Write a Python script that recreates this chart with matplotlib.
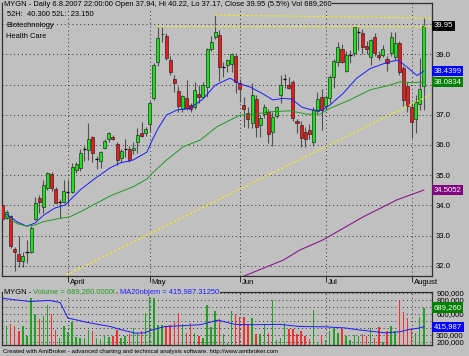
import matplotlib
matplotlib.use('Agg')
import matplotlib.pyplot as plt
import matplotlib.transforms as mtransforms

W, H = 469, 356
BG = '#C0C0C0'
FONT = 'Liberation Sans'

# ---------------- data (bar index 0..103, daily) ----------------
opens = [34.00, 33.58, 33.66, 32.55, 32.38, 32.17, 32.46, 32.46, 33.54, 34.24,
         33.93, 34.56, 35.03, 34.54, 34.12, 34.10, 34.45, 34.43, 35.17, 35.22,
         35.85, 35.83, 36.27, 35.52, 35.48, 35.89, 36.19, 36.27, 36.03, 35.56,
         35.85, 35.85, 35.83, 36.11, 36.38, 36.38, 36.70, 37.56, 38.75, 39.66,
         39.60, 38.81, 38.17, 37.78, 37.18, 37.54, 37.32, 37.25, 37.69, 37.60,
         37.93, 39.17, 39.56, 39.64, 38.59, 38.64, 38.68, 38.94, 38.06, 37.32,
         37.05, 36.72, 37.51, 36.66, 37.02, 37.10, 36.44, 36.96, 37.65, 38.17,
         38.00, 38.09, 36.79, 36.66, 36.44, 36.49, 36.11, 37.14, 37.60, 37.29,
         37.54, 38.26, 38.75, 39.17, 38.46, 38.98, 39.05, 39.73, 39.70, 39.27,
         38.90, 39.58, 38.98, 38.98, 38.83, 39.05, 38.90, 39.36, 38.55, 37.95,
         37.25, 36.85, 37.35, 37.94]
highs = [34.10, 33.85, 33.69, 32.63, 32.97, 32.45, 32.85, 33.30, 34.26, 34.34,
         34.84, 35.10, 35.10, 34.60, 34.20, 34.83, 34.83, 35.39, 35.45, 35.85,
         35.96, 36.74, 36.30, 35.63, 35.80, 36.20, 36.42, 36.33, 36.10, 35.85,
         36.20, 35.95, 36.10, 36.55, 36.75, 36.60, 37.45, 38.70, 39.91, 39.90,
         39.70, 38.95, 38.30, 37.95, 37.65, 38.15, 37.40, 38.10, 38.00, 38.10,
         39.20, 39.60, 40.30, 39.80, 38.75, 38.85, 39.05, 39.03, 38.17, 37.59,
         37.27, 38.06, 37.65, 36.99, 37.35, 37.20, 37.10, 37.30, 38.30, 38.34,
         38.25, 38.15, 36.86, 36.80, 36.60, 36.70, 37.25, 37.76, 37.85, 37.65,
         38.30, 38.85, 39.42, 39.35, 39.10, 39.15, 39.91, 39.91, 39.85, 39.45,
         39.52, 39.70, 39.10, 39.30, 38.95, 39.75, 39.75, 39.45, 38.60, 38.10,
         37.40, 37.65, 38.87, 40.22]
lows = [33.18, 33.54, 32.59, 31.83, 31.97, 31.97, 32.09, 32.43, 33.50, 33.75,
        33.74, 34.50, 34.48, 34.07, 33.57, 34.07, 34.00, 34.40, 35.08, 35.15,
        35.48, 35.50, 35.45, 35.20, 35.25, 35.85, 36.10, 36.15, 35.33, 35.45,
        35.61, 35.45, 35.70, 35.73, 36.25, 36.30, 36.44, 37.50, 38.60, 39.42,
        38.80, 38.30, 37.75, 37.10, 37.10, 37.15, 37.10, 37.20, 37.40, 37.55,
        37.60, 39.10, 39.50, 38.13, 38.26, 38.40, 38.40, 37.71, 37.43, 36.59,
        36.55, 36.55, 36.27, 36.25, 36.90, 36.05, 35.96, 36.90, 37.40, 37.88,
        37.85, 36.80, 36.40, 35.94, 35.94, 36.20, 35.95, 37.05, 36.49, 37.15,
        37.40, 37.87, 38.60, 38.70, 38.40, 38.70, 38.95, 39.15, 39.00, 39.00,
        38.65, 38.95, 38.80, 38.90, 38.45, 38.95, 38.80, 38.30, 37.30, 37.10,
        36.22, 36.40, 37.15, 37.17]
closes = [33.54, 33.78, 32.65, 32.44, 32.17, 32.32, 32.46, 33.26, 34.09, 34.11,
          34.68, 35.06, 34.56, 34.07, 34.12, 34.48, 34.45, 35.26, 35.37, 35.74,
          35.85, 36.19, 35.72, 35.52, 35.77, 36.14, 36.38, 36.19, 35.50, 35.80,
          35.85, 35.50, 35.91, 36.33, 36.29, 36.53, 37.38, 38.64, 39.53, 39.68,
          38.87, 38.42, 38.04, 37.29, 37.62, 37.21, 37.18, 37.82, 37.58, 37.98,
          39.18, 39.42, 39.75, 38.59, 38.59, 38.81, 39.02, 38.10, 37.84, 37.18,
          36.85, 37.65, 36.58, 36.88, 37.26, 36.36, 36.91, 37.26, 37.98, 38.17,
          37.90, 36.88, 36.72, 36.22, 36.19, 36.36, 37.16, 37.52, 37.16, 37.60,
          38.26, 38.78, 39.25, 38.73, 38.98, 38.98, 39.91, 39.73, 39.25, 39.17,
          39.47, 39.05, 38.90, 39.17, 38.72, 39.58, 39.36, 38.42, 37.49, 37.30,
          36.77, 37.43, 37.84, 39.95]
volumes = [300, 430, 450, 430, 350, 420, 280, 820, 600, 530,
           570, 720, 600, 370, 260, 420, 340, 480, 270, 260,
           260, 370, 360, 250, 240, 280, 270, 290, 370, 260,
           290, 310, 400, 330, 350, 610, 840, 820, 440, 440,
           430, 440, 480, 610, 460, 330, 470, 330, 280, 250,
           720, 410, 640, 530, 310, 180, 640, 600, 560, 560,
           440, 540, 320, 320, 450, 330, 790, 230, 260, 470,
           380, 390, 320, 350, 280, 240, 650, 200, 300, 230,
           350, 400, 330, 390, 280, 230, 300, 280, 310, 290,
           400, 250, 410, 200, 360, 420, 360, 790, 620, 540,
           400, 330, 560, 689.26]  # thousands

month_labels = ['April', 'May', 'Jun', 'Jul', 'August']
month_idx = [16, 36, 58, 79, 100]

ma_blue_x = [1, 3.5, 5.9, 7.9, 10.1, 12.8, 15.3, 19, 22.1, 26.3, 28.7, 31.9, 35.3, 36.6,
             38.1, 40.1, 42.7, 45.8, 49, 52, 55.6, 58.1, 60.5, 63.7, 66.1, 68.6, 70.7,
             73.2, 75.6, 78, 80, 83.3, 86.6, 89.9, 94, 96.7, 98.8, 101.3, 103]
ma_blue_y = [33.71, 33.46, 33.31, 33.41, 33.68, 33.91, 34.01, 34.51, 34.84, 35.24, 35.40,
             35.50, 35.76, 36.16, 36.56, 36.99, 37.16, 37.21, 37.52, 37.98, 38.21, 38.02,
             37.92, 37.69, 37.49, 37.54, 37.52, 37.25, 37.16, 37.14, 37.32, 37.71, 38.21,
             38.53, 38.73, 38.81, 38.59, 38.30, 38.4399]
ma_green_x = [1, 3.5, 5.9, 7.9, 10, 14.1, 16.5, 19.8, 23, 26.3, 32, 35.3, 36.9, 40.1,
              44.2, 48.3, 52.4, 58.1, 60.5, 65.4, 70.3, 74.4, 77.6, 80, 84.9, 89.8,
              94.7, 97.2, 100, 103]
ma_green_y = [33.62, 33.40, 33.31, 33.35, 33.46, 33.57, 33.62, 33.84, 34.07, 34.31, 34.62,
              34.87, 35.10, 35.50, 35.94, 36.16, 36.60, 36.99, 36.99, 37.10, 37.13, 37.02,
              37.02, 37.21, 37.49, 37.82, 37.98, 38.09, 38.06, 38.0834]
ma_purple_x = [58, 68.7, 72.7, 78.4, 88.2, 96.4, 103]
ma_purple_y = [31.60, 32.19, 32.52, 32.86, 33.62, 34.18, 34.5052]
vol_ma_x = [0, 6.7, 11.6, 14.1, 16, 21.4, 26.3, 28.7, 32.4, 34.8, 36.5, 39.7, 43.4, 48.3,
            52.7, 56.8, 61.7, 67.8, 72.7, 78.8, 83.6, 87.4, 93.5, 97.2, 99.6, 101.6, 103]
vol_ma_y = [820, 775, 790, 760, 540, 470, 420, 380, 325, 330, 370, 420, 430, 445,
            510, 450, 445, 450, 420, 415, 400, 370, 330, 345, 380, 395, 415.987]

trend_up_x = [15.6, 104.6]
trend_up_y = [31.69, 37.66]
resist1_x = [37.8, 105.0]
resist1_y = [39.93, 39.93]
resist2_x = [52, 105.0]
resist2_y = [40.30, 40.20]

price_ticks = [32, 33, 34, 35, 36, 37, 38, 39, 40]
price_hidden = [38, 40]          # labels covered by value boxes in the reference
vol_ticks = [200, 300, 400, 500, 600, 700, 800, 900]
vol_hidden = [400, 500, 700]

# ---------------- figure ----------------
plt.rcParams['font.family'] = [FONT, 'DejaVu Sans']
fig = plt.figure(figsize=(W / 100, H / 100), dpi=100, facecolor=BG)


def px_axes(l, t, r, b):
    return fig.add_axes([l / W, 1 - b / H, (r - l) / W, (b - t) / H])


ax = px_axes(2, 3, 432, 276)
axv = px_axes(2, 292, 432, 345)

XL = (-0.12, 105.0)
GRID_KW = dict(color='#303030', lw=0.7, linestyle=(0, (1, 3)))
TS = 5.6

for a in (ax, axv):
    a.set_facecolor(BG)
    a.set_xlim(*XL)
    for s in a.spines.values():
        s.set_color('#303030')
        s.set_linewidth(0.9)
    a.yaxis.tick_right()
    a.tick_params(axis='y', length=0, pad=3, labelsize=TS, colors='black')
    for m in month_idx:
        a.axvline(m, zorder=0.5, **GRID_KW)

# price panel
ax.set_ylim(31.66, 40.70)
ax.set_yticks(price_ticks)
ax.set_yticklabels(['' if v in price_hidden else f'{v:.1f}' for v in price_ticks])
for v in price_ticks:
    ax.axhline(v, zorder=0.5, **GRID_KW)
ax.set_xticks(month_idx)
ax.set_xticklabels([])
ax.tick_params(axis='x', length=4.5, width=0.7, direction='out', color='#303030')

idx = list(range(len(opens)))
ax.vlines(idx, lows, highs, color='#505050', lw=0.8, zorder=2)
for i, (o, c) in enumerate(zip(opens, closes)):
    if abs(c - o) < 0.005:
        ax.hlines(o, i - 0.38, i + 0.38, color='black', lw=0.9, zorder=3)
    else:
        col = '#19E619' if c > o else '#F01818'
        ax.bar(i, abs(c - o), bottom=min(o, c), width=0.74, color=col,
               edgecolor='#202020', linewidth=0.45, zorder=3)

ax.plot(ma_blue_x, ma_blue_y, color='#1a1aff', lw=0.7, zorder=4)
ax.plot(ma_green_x, ma_green_y, color='#1f9a1f', lw=0.7, zorder=4)
ax.plot(ma_purple_x, ma_purple_y, color='#8a1a8a', lw=0.8, zorder=4)
YDASH = dict(color='#F5F500', lw=0.8, linestyle=(0, (2, 2)), zorder=4)
ax.plot(trend_up_x, trend_up_y, **YDASH)
ax.plot(resist1_x, resist1_y, **YDASH)
ax.plot(resist2_x, resist2_y, **YDASH)

trans_p = mtransforms.blended_transform_factory(ax.transAxes, ax.transData)


def value_box(a, tr, y, txt, bg):
    a.text(1.004, y, txt, transform=tr, ha='left', va='center', fontsize=TS,
           color='white', zorder=10, clip_on=False,
           bbox=dict(boxstyle='square,pad=0.2', facecolor=bg, edgecolor='none'))


value_box(ax, trans_p, closes[-1], f'{closes[-1]:.2f}', '#000000')
value_box(ax, trans_p, ma_blue_y[-1], f'{ma_blue_y[-1]:.4f}', '#0000FF')
value_box(ax, trans_p, ma_green_y[-1], f'{ma_green_y[-1]:.4f}', '#008000')
value_box(ax, trans_p, ma_purple_y[-1], f'{ma_purple_y[-1]:.4f}', '#800080')

# header texts
hdr = dict(fontsize=5.4, ha='left', va='center', color='black')
fig.text(4 / W, 1 - 4 / H,
         'MYGN - Daily 6.8.2007 22:00:00 Open 37.94, Hi 40.22, Lo 37.17, '
         'Close 39.95 (5.5%) Vol 689,260',
         bbox=dict(boxstyle='square,pad=0.1', facecolor=BG, edgecolor='none'),
         zorder=20, **hdr)
fig.text(7 / W, 1 - 15 / H, '52H:  40.300 52L:  23.150', **hdr)
fig.text(6 / W, 1 - 25.5 / H, 'Biotechnology', **hdr)
fig.text(6 / W, 1 - 36 / H, 'Health Care', **hdr)

# month labels
for m, lab in zip(month_idx, month_labels):
    xpx = 2 + (m - XL[0]) / (XL[1] - XL[0]) * 430
    fig.text((xpx + 2) / W, 1 - 282 / H, lab, fontsize=TS, ha='left', va='center')

# volume panel
axv.set_ylim(157, 910)
axv.set_yticks(vol_ticks)
axv.set_yticklabels(['' if v in vol_hidden else f'{v:,}' + ',000' for v in vol_ticks])
axv.set_xticks([])
for v in vol_ticks:
    axv.axhline(v, zorder=0.5, **GRID_KW)
vcols = ['#22A022' if c >= o else '#F23030' for o, c in zip(opens, closes)]
axv.bar(idx, volumes, width=0.36, color=vcols, zorder=2)
axv.plot(vol_ma_x, vol_ma_y, color='#1a1aff', lw=0.7, zorder=3)
trans_v = mtransforms.blended_transform_factory(axv.transAxes, axv.transData)
value_box(axv, trans_v, volumes[-1], '689,260', '#008000')
value_box(axv, trans_v, vol_ma_y[-1], '415,987', '#0000FF')

# volume title in colours
fig.canvas.draw()
r = fig.canvas.get_renderer()
parts = [('MYGN - ', 'black'), ('Volume = 689,260.00000', '#1f9a1f'),
         (', ', 'black'), ('MA20objem = 415,987.31250', '#1a1aff')]
xp = 4
for txt, col in parts:
    t = fig.text(xp / W, 1 - 292 / H, txt, fontsize=5.4, ha='left', va='center',
                 color=col, zorder=20,
                 bbox=dict(boxstyle='square,pad=0.1', facecolor=BG, edgecolor='none'))
    bb = t.get_window_extent(renderer=r)
    xp += bb.width - 0.6

fig.text(3 / W, 1 - 352 / H,
         'Created with AmiBroker - advanced charting and technical analysis software. '
         'http://www.amibroker.com', fontsize=4.3, ha='left', va='center')

fig.savefig('out.png', dpi=100, facecolor=BG)
